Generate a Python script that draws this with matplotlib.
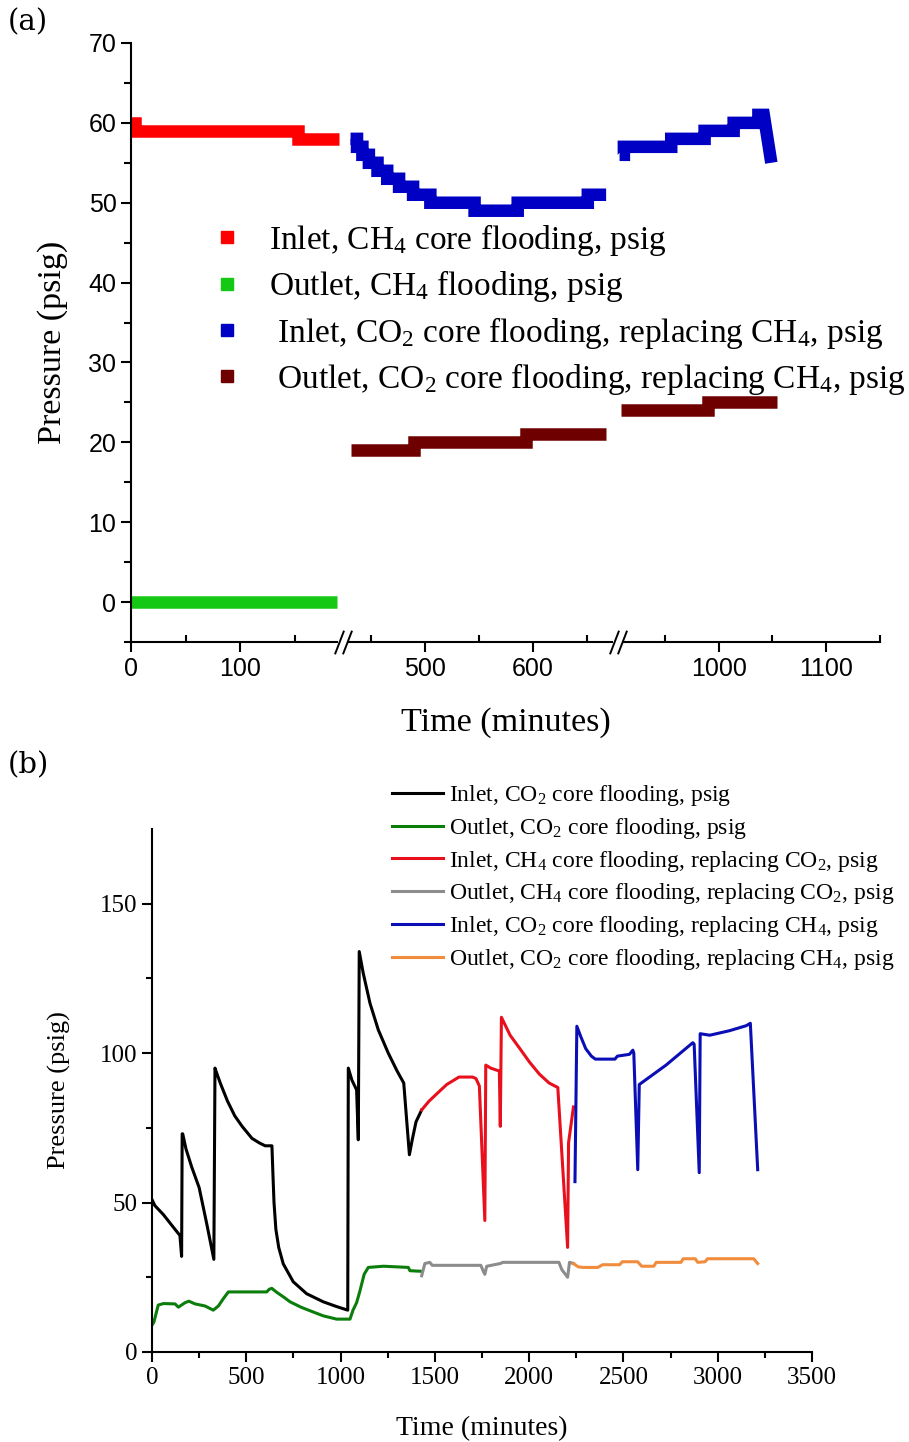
import numpy as np
import matplotlib
matplotlib.use("Agg")
import matplotlib.pyplot as plt
from matplotlib.lines import Line2D
from matplotlib import transforms

plt.rcParams['font.family'] = ['Liberation Serif', 'DejaVu Serif']
plt.rcParams['mathtext.fontset'] = 'custom'
plt.rcParams['mathtext.rm'] = 'Liberation Serif'
plt.rcParams['mathtext.it'] = 'Liberation Serif:italic'
plt.rcParams['mathtext.bf'] = 'Liberation Serif:bold'

nan = np.nan

# (a) CH4 flooding, then CO2 flooding replacing CH4 (psig, 1 psig resolution)
a_in_ch4_t = [0, 4, 4, 153, 153, 191]
a_in_ch4_p = [60, 60, 59, 59, 58, 58]
a_out_ch4_t = [0, 189]
a_out_ch4_p = [0, 0]
a_in_co2_t = [431, 437, 437, 442, 442, 448, 448, 456, 456, 465, 465, 476, 476, 489, 489, 505,
              505, 546, 546, 586, 586, 651, 651, 668, nan,
              908, 912, 912, 956, 956, 987, 987, 1014, 1014, 1037, 1037, 1042, 1049]
a_in_co2_p = [58, 58, 57, 57, 56, 56, 55, 55, 54, 54, 53, 53, 52, 52, 51, 51,
              50, 50, 49, 49, 50, 50, 51, 51, nan,
              56, 56, 57, 57, 58, 58, 59, 59, 60, 60, 61, 61, 55]
a_out_co2_t = [431, 490, 490, 594, 594, 668, nan, 909, 990, 990, 1054]
a_out_co2_p = [19, 19, 20, 20, 21, 21, nan, 24, 24, 25, 25]

a_labels = ['Inlet, CH$_4$ core flooding, psig',
            'Outlet, CH$_4$ flooding, psig',
            ' Inlet, CO$_2$ core flooding, replacing CH$_4$, psig',
            ' Outlet, CO$_2$ core flooding, replacing CH$_4$, psig']
a_colors = ['#ff0000', '#14c814', '#0000c4', '#6e0000']

# (b) full sequence of floods
b_in_co2_t = [0, 15, 60, 110, 148, 157, 160, 163, 180, 210, 250, 290, 328, 334, 345, 362, 400,
              439, 478, 530, 568, 600, 636, 641, 647, 657, 672, 696, 749, 820, 908, 979, 1038,
              1041, 1060, 1085, 1094, 1099, 1120, 1156, 1200, 1253, 1300, 1335, 1365, 1380,
              1400, 1430]
b_in_co2_p = [51, 49, 46, 42, 39, 32, 73, 73, 68, 62, 55, 43, 31, 95, 93, 90, 84,
              79, 75.5, 71.5, 70, 69, 69, 60, 50, 41, 35, 29.5, 23.5, 19.5, 16.8, 15.2, 14,
              95, 91, 87.7, 71, 134, 126.8, 116.7, 107.8, 100, 94, 90, 66, 71,
              77, 81]
b_out_co2_t = [0, 10, 33, 60, 122, 140, 175, 196, 228, 281, 325, 352, 380, 405, 608, 622, 635,
               661, 700, 732, 790, 838, 908, 979, 1050, 1066, 1085, 1103, 1125, 1147, 1227,
               1359, 1368, 1430]
b_out_co2_p = [9, 10, 15.7, 16.2, 16.1, 15, 16.5, 17, 16.1, 15.4, 14, 15.4, 18, 20.1, 20.1, 21, 21.3,
               20, 18.3, 16.8, 15, 13.8, 12.1, 11, 11, 14, 16.5, 20.5, 26, 28.3, 28.7,
               28.3, 27.2, 27]
b_in_ch4_t = [1430, 1470, 1512, 1563, 1628, 1700, 1718, 1736, 1765, 1770, 1796, 1842, 1847, 1853,
              1899, 1951, 2002, 2054, 2106, 2152, 2204, 2209, 2235]
b_in_ch4_p = [81, 84, 86.5, 89.5, 92, 92, 91.5, 89, 44, 96, 95, 94, 75.5, 112,
              106, 101.5, 97, 93, 90, 88.5, 35, 70, 82]
b_out_ch4_t = [1430, 1447, 1473, 1486, 1744, 1757, 1765, 1775, 1847, 1860, 2158, 2173, 2204, 2214, 2235]
b_out_ch4_p = [25.5, 29.6, 30, 29, 29, 27, 26, 28.7, 29.6, 30, 30, 27.6, 25, 30, 29.6]
b_in_rep_t = [2243, 2253, 2274, 2300, 2330, 2351, 2455, 2468, 2532, 2550, 2555, 2576, 2584, 2726,
              2868, 2875, 2902, 2907, 2958, 3062, 3152, 3173, 3212]
b_in_rep_p = [57, 109, 105.5, 101.5, 99, 98, 98, 99, 99.6, 101, 100, 61, 89.5, 96,
              103.5, 103, 60, 106.5, 106, 107.5, 109.2, 110, 61]
b_out_rep_t = [2235, 2260, 2287, 2364, 2390, 2480, 2494, 2575, 2584, 2597, 2661, 2674, 2805, 2817,
               2881, 2894, 2933, 2946, 3191, 3212]
b_out_rep_p = [29.6, 28.5, 28.3, 28.3, 29.2, 29.2, 30.2, 30.2, 29.6, 28.7, 28.7, 30, 30, 31.2,
               31.2, 30, 30.2, 31.2, 31.2, 29.6]

b_labels = ['Inlet, CO$_2$ core flooding, psig',
            'Outlet, CO$_2$ core flooding, psig',
            'Inlet, CH$_4$ core flooding, replacing CO$_2$, psig',
            'Outlet, CH$_4$ core flooding, replacing CO$_2$, psig',
            'Inlet, CO$_2$ core flooding, replacing CH$_4$, psig',
            'Outlet, CO$_2$ core flooding, replacing CH$_4$, psig']
b_colors = ['#000000', '#0a7d0a', '#e8101c', '#8c8c8c', '#0a0eb4', '#f08c3c']

# broken time axis for (a): the idle periods are squeezed out
brk_x = [-1000, 0, 194, 424, 679, 907, 1150, 3000]
brk_u = [-1090, 0, 211.5, 212, 487, 487.5, 749, 2740]


def fwd(x):
    return np.interp(x, brk_x, brk_u)


def inv(u):
    return np.interp(u, brk_u, brk_x)


def axis_break(ax, x):
    tr = ax.get_xaxis_transform()
    ax.plot([x], [0], transform=tr, marker='_', ms=7, mew=6, color='white',
            clip_on=False, zorder=5)
    for dx in (-4, 4):
        t = transforms.offset_copy(tr, fig=ax.figure, x=dx, y=0, units='dots')
        ax.plot([x], [0], transform=t, marker=[(-1, -2.6), (1, 2.6)], ms=17, mew=1.4,
                color='k', clip_on=False, zorder=6)


fig = plt.figure(figsize=(9.09, 14.42), dpi=100)

# ---------- (a) ----------
ax = fig.add_axes([131 / 909, 1 - 642 / 1442, 749 / 909, 599 / 1442])
ax.set_xscale('function', functions=(fwd, inv))
series_a = [(a_in_ch4_t, a_in_ch4_p), (a_out_ch4_t, a_out_ch4_p),
            (a_in_co2_t, a_in_co2_p), (a_out_co2_t, a_out_co2_p)]
for (t, p), c in zip(series_a, a_colors):
    ax.plot(t, p, color=c, lw=9, solid_capstyle='butt', solid_joinstyle='miter')
ax.set_xlim(0, 1150)
ax.set_ylim(-5, 70)
ax.set_xticks([0, 100, 500, 600, 1000, 1100])
ax.set_xticks([50, 150, 450, 550, 650, 950, 1050, 1150], minor=True)
ax.set_yticks(range(0, 71, 10))
ax.set_yticks(range(-5, 70, 10), minor=True)
for s in ['top', 'right']:
    ax.spines[s].set_visible(False)
for s in ['left', 'bottom']:
    ax.spines[s].set_linewidth(1.5)
ax.tick_params(axis='both', which='major', direction='out', length=7, width=1.5, labelsize=18)
ax.tick_params(axis='x', which='minor', direction='in', length=5, width=1.5)
ax.tick_params(axis='y', which='minor', direction='out', length=5, width=1.5)
for lab in ax.get_xticklabels() + ax.get_yticklabels():
    lab.set_fontfamily('Liberation Sans')
ax.set_xlabel('Time (minutes)', fontsize=24.5, labelpad=19)
ax.set_ylabel('Pressure (psig)', fontsize=24.5, labelpad=15)
axis_break(ax, 309)
axis_break(ax, 793)

handles = [Line2D([], [], ls='none', marker='s', ms=8.6, color=c) for c in a_colors]
ax.legend(handles, a_labels, loc='upper left', bbox_to_anchor=(211 / 909, 1 - 222 / 1442),
          bbox_transform=fig.transFigure, frameon=False, fontsize=24,
          handlelength=0.95, handletextpad=0.8, labelspacing=0.31,
          borderpad=0, borderaxespad=0)

# ---------- (b) ----------
bx = fig.add_axes([152 / 909, 1 - 1352 / 1442, 660 / 909, 523 / 1442])
series_b = [(b_in_co2_t, b_in_co2_p), (b_out_co2_t, b_out_co2_p),
            (b_in_ch4_t, b_in_ch4_p), (b_out_ch4_t, b_out_ch4_p),
            (b_in_rep_t, b_in_rep_p), (b_out_rep_t, b_out_rep_p)]
lines = []
for (t, p), c in zip(series_b, b_colors):
    ln, = bx.plot(t, p, color=c, lw=2.2)
    lines.append(ln)
bx.set_xlim(0, 3500)
bx.set_ylim(0, 175)
bx.set_xticks(range(0, 3501, 500))
bx.set_xticks(range(250, 3500, 500), minor=True)
bx.set_yticks([0, 50, 100, 150])
bx.set_yticks([25, 75, 125], minor=True)
for s in ['top', 'right']:
    bx.spines[s].set_visible(False)
for s in ['left', 'bottom']:
    bx.spines[s].set_linewidth(1.5)
bx.tick_params(axis='both', which='major', direction='out', length=7, width=1.5, labelsize=18)
bx.tick_params(axis='both', which='minor', direction='out', length=4, width=1.5)
bx.set_xlabel('Time (minutes)', fontsize=20, labelpad=20)
bx.set_ylabel('Pressure (psig)', fontsize=19, labelpad=21)
bx.legend(lines, b_labels, loc='upper left', bbox_to_anchor=(392 / 909, 1 - 783 / 1442),
          bbox_transform=fig.transFigure, frameon=False, fontsize=17,
          handlelength=2.16, handletextpad=0.25, labelspacing=0.33,
          borderpad=0, borderaxespad=0)

fig.text(8 / 909, 1 - 22 / 1442, '(a)', fontsize=21, family='DejaVu Serif', va='center')
fig.text(8 / 909, 1 - 765 / 1442, '(b)', fontsize=21, family='DejaVu Serif', va='center')

fig.savefig('out.png', dpi=100)
